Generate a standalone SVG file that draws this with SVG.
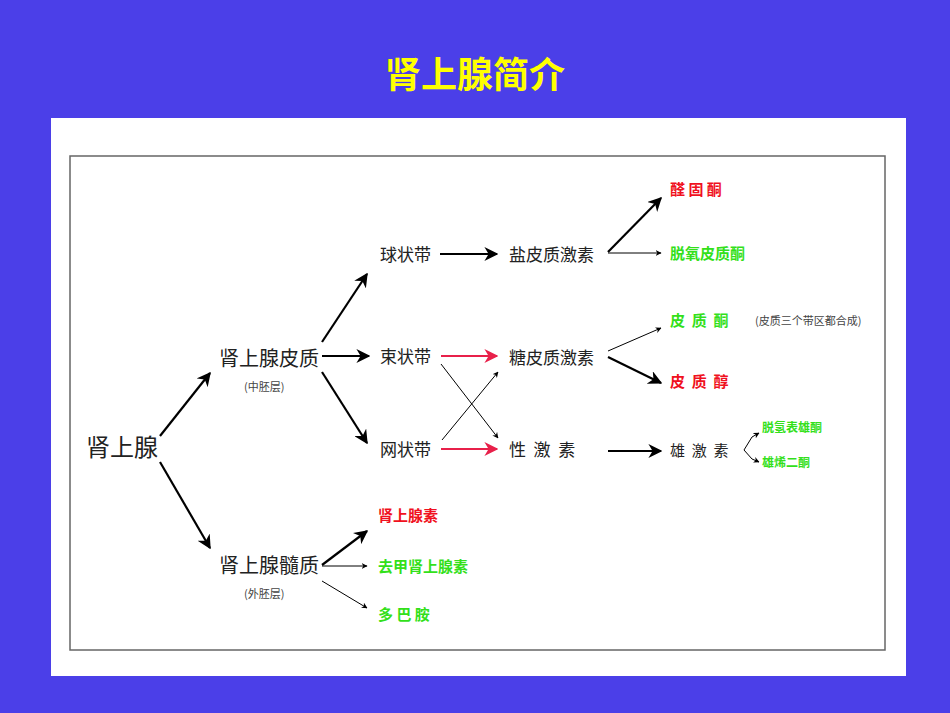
<svg xmlns="http://www.w3.org/2000/svg" width="950" height="713" viewBox="0 0 950 713">
<defs>
<marker id="a" viewBox="0 0 10 10" refX="9" refY="5" markerWidth="6" markerHeight="6" markerUnits="userSpaceOnUse" orient="auto"><path d="M0,0 L10,5 L0,10 L3,5 z" fill="#000"/></marker>
<marker id="ab" viewBox="0 0 10 10" refX="9" refY="5" markerWidth="14" markerHeight="14" markerUnits="userSpaceOnUse" orient="auto"><path d="M0,0 L10,5 L0,10 L3,5 z" fill="#000"/></marker>
<marker id="ar" viewBox="0 0 10 10" refX="9" refY="5" markerWidth="14" markerHeight="14" markerUnits="userSpaceOnUse" orient="auto"><path d="M0,0 L10,5 L0,10 L3,5 z" fill="#e8204a"/></marker>
</defs>
<style>
text{font-family:"Noto Sans CJK SC",sans-serif;}
.n{font-size:20px;fill:#222;}
.m{font-size:17px;fill:#222;}
.s{font-size:11px;fill:#444;}
.r{font-size:15px;font-weight:bold;fill:#f01020;}
.g{font-size:15px;font-weight:bold;fill:#33e01a;}
.gs{font-size:12px;font-weight:bold;fill:#33e01a;}
.t{stroke:#000;stroke-width:2.2;fill:none;marker-end:url(#ab);}
.th{stroke:#000;stroke-width:1;fill:none;marker-end:url(#a);}
.rd{stroke:#e8204a;stroke-width:2.2;fill:none;marker-end:url(#ar);}
</style>
<rect width="950" height="713" fill="#4b3fe8"/>
<text x="475" y="88" text-anchor="middle" style="font-size:36px;font-weight:bold;fill:#ffff00">肾上腺简介</text>
<rect x="51" y="118" width="855" height="558" fill="#fff"/>
<rect x="70" y="156" width="815" height="494" fill="none" stroke="#666" stroke-width="1.5"/>
<g id="connectors">
<path class="t" d="M160,436 L210,373"/>
<path class="t" d="M160,462 L210,548"/>
<path class="t" d="M322,342 L367,274"/>
<path class="t" d="M322,356 L369,356"/>
<path class="t" d="M322,372 L367,443"/>
<path class="t" d="M440,254 L497,254"/>
<path class="rd" d="M441,356 L497,356"/>
<path class="rd" d="M441,449 L497,449"/>
<path class="th" d="M441,364 L498,438"/>
<path class="th" d="M442,440 L498,372"/>
<path class="t" d="M608,252 L661,198"/>
<path class="th" d="M608,253 L661,253"/>
<path class="th" d="M608,351 L661,328"/>
<path class="t" d="M608,357 L661,383"/>
<path class="t" d="M608,451 L661,451"/>
<path class="th" d="M744,450 L752,437 L759,433"/>
<path class="th" d="M744,450 L752,459 L759,462"/>
<path class="t" d="M322,565 L367,531"/>
<path class="th" d="M322,566 L367,566"/>
<path class="th" d="M322,581 L367,608"/>
</g>
<g id="n1"><text class="n" x="86" y="456" style="font-size:24px">肾上腺</text></g>
<g id="n2"><text class="n" x="219" y="366">肾上腺皮质</text><text class="s" x="244" y="391">(中胚层)</text></g>
<g id="n3"><text class="n" x="219" y="573">肾上腺髓质</text><text class="s" x="244" y="598">(外胚层)</text></g>
<g id="n4"><text class="m" x="380" y="261">球状带</text></g>
<g id="n5"><text class="m" x="380" y="363">束状带</text></g>
<g id="n6"><text class="m" x="380" y="456">网状带</text></g>
<g id="n7"><text class="m" x="509" y="261">盐皮质激素</text></g>
<g id="n8"><text class="m" x="509" y="364">糖皮质激素</text></g>
<g id="n9"><text class="m" x="509" y="456" xml:space="preserve">性  激  素</text></g>
<g id="n10"><text class="r" x="670" y="195" xml:space="preserve">醛 固 酮</text></g>
<g id="n11"><text class="g" x="670" y="259">脱氧皮质酮</text></g>
<g id="n12"><text class="g" x="670" y="326" xml:space="preserve">皮  质  酮</text><text class="s" x="755" y="325">(皮质三个带区都合成)</text></g>
<g id="n13"><text class="r" x="670" y="387" xml:space="preserve">皮  质  醇</text></g>
<g id="n14"><text class="m" x="670" y="456" style="font-size:15px" xml:space="preserve">雄  激  素</text></g>
<g id="n15"><text class="gs" x="762" y="432">脱氢表雄酮</text></g>
<g id="n16"><text class="gs" x="762" y="467">雄烯二酮</text></g>
<g id="n17"><text class="r" x="378" y="521">肾上腺素</text></g>
<g id="n18"><text class="g" x="378" y="572">去甲肾上腺素</text></g>
<g id="n19"><text class="g" x="378" y="620" xml:space="preserve">多 巴 胺</text></g>
</svg>
